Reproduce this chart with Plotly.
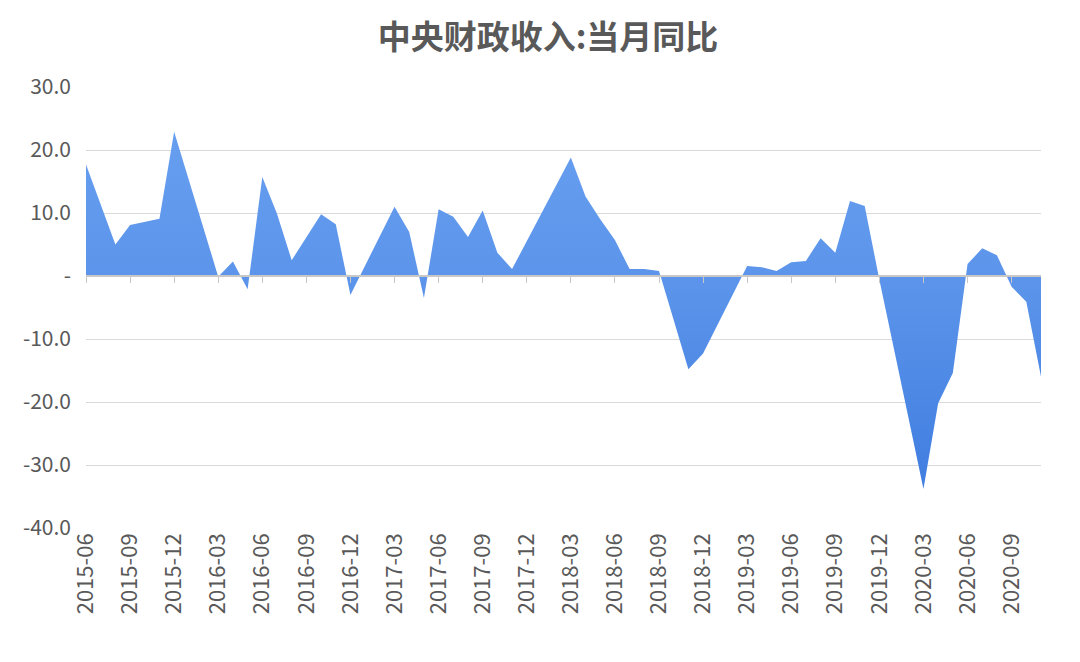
import plotly.graph_objects as go

# 中央财政收入:当月同比 (%), 2015-06 .. 2020-11; 1-2月无单月数据
months = [
    "2015-06", "2015-07", "2015-08", "2015-09", "2015-10", "2015-11", "2015-12",
    "2016-01", "2016-02", "2016-03", "2016-04", "2016-05", "2016-06", "2016-07",
    "2016-08", "2016-09", "2016-10", "2016-11", "2016-12",
    "2017-01", "2017-02", "2017-03", "2017-04", "2017-05", "2017-06", "2017-07",
    "2017-08", "2017-09", "2017-10", "2017-11", "2017-12",
    "2018-01", "2018-02", "2018-03", "2018-04", "2018-05", "2018-06", "2018-07",
    "2018-08", "2018-09", "2018-10", "2018-11", "2018-12",
    "2019-01", "2019-02", "2019-03", "2019-04", "2019-05", "2019-06", "2019-07",
    "2019-08", "2019-09", "2019-10", "2019-11", "2019-12",
    "2020-01", "2020-02", "2020-03", "2020-04", "2020-05", "2020-06", "2020-07",
    "2020-08", "2020-09", "2020-10", "2020-11",
]

yoy = [
    17.7, 11.4, 5.0, 8.1, 8.6, 9.1, 22.9,
    None, None, -0.1, 2.3, -2.1, 15.7, 9.9,
    2.5, 6.2, 9.8, 8.2, -3.0,
    None, None, 11.0, 7.0, -3.5, 10.6, 9.4,
    6.2, 10.4, 3.7, 1.1, 5.5,
    None, None, 18.8, 12.6, 9.0, 5.7, 1.1,
    1.1, 0.8, -7.0, -14.8, -12.3,
    None, None, 1.6, 1.4, 0.8, 2.2, 2.4,
    6.0, 3.7, 11.9, 11.1, -0.6,
    None, None, -33.8, -20.2, -15.4, 1.9, 4.4,
    3.3, -1.7, -4.1, -16.0,
]

y_ticks = [30, 20, 10, 0, -10, -20, -30, -40]
y_labels = ["30.0", "20.0", "10.0", "-", "-10.0", "-20.0", "-30.0", "-40.0"]
x_ticks = months[::3]

FONT = "Noto Sans CJK SC"
GREY = "#595959"

fig = go.Figure()

fig.add_trace(go.Scatter(
    x=months,
    y=yoy,
    mode="lines",
    connectgaps=True,
    fill="tozeroy",
    line=dict(width=0, color="#5b95ea"),
    fillgradient=dict(
        type="vertical",
        start=-40,
        stop=30,
        colorscale=[[0, "#3b79de"], [0.55, "#5b94ea"], [1, "#6aa1f1"]],
    ),
    hoverinfo="x+y",
    showlegend=False,
))

# dummy trace so the zero-line axis (with its tick marks) is drawn
fig.add_trace(go.Scatter(x=months, y=[None] * len(months), xaxis="x2",
                         showlegend=False, hoverinfo="skip"))

fig.update_layout(
    width=1080,
    height=662,
    paper_bgcolor="white",
    plot_bgcolor="white",
    margin=dict(l=78, r=47, t=79, b=142),
    title=dict(
        text="<b>中央财政收入:当月同比</b>",
        x=0.5,
        xanchor="center",
        y=0.955,
        yanchor="middle",
        font=dict(family=FONT, size=33, color=GREY),
    ),
    font=dict(family=FONT, color=GREY),
    xaxis=dict(
        type="category",
        categoryorder="array",
        categoryarray=months,
        range=[0, len(months) - 1],
        tickmode="array",
        tickvals=x_ticks,
        ticktext=x_ticks,
        tickangle=-90,
        tickfont=dict(family=FONT, size=22, color=GREY),
        showgrid=False,
        showline=False,
        ticks="",
        zeroline=False,
    ),
    xaxis2=dict(
        type="category",
        categoryorder="array",
        categoryarray=months,
        range=[0, len(months) - 1],
        overlaying="x",
        anchor="free",
        position=40 / 70,
        side="bottom",
        tickmode="array",
        tickvals=x_ticks,
        showticklabels=False,
        ticks="outside",
        ticklen=6,
        tickwidth=1,
        tickcolor="#c8c8c8",
        showline=True,
        linecolor="#c8c8c8",
        linewidth=2,
        showgrid=False,
        zeroline=False,
    ),
    yaxis=dict(
        range=[-40, 30],
        tickmode="array",
        tickvals=y_ticks,
        ticktext=y_labels,
        tickfont=dict(family=FONT, size=21, color=GREY),
        showgrid=True,
        gridcolor="#d9d9d9",
        gridwidth=1,
        zeroline=False,
        showline=False,
        ticks="",
        ticklabelstandoff=14,
    ),
)

fig.write_html("out.html")
